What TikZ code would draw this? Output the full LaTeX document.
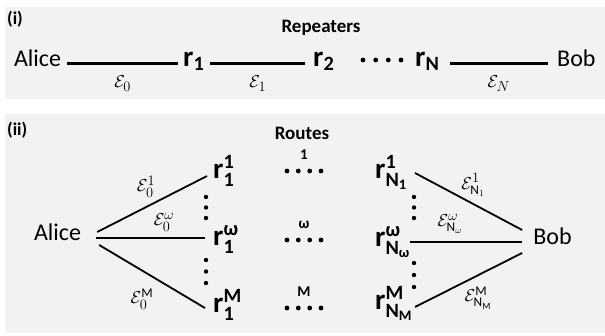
\documentclass[tikz,border=0pt]{standalone}
\usepackage{fontspec}
\usepackage{amsmath}
\setmainfont{Carlito}
\definecolor{panelgray}{HTML}{F2F2F2}
\begin{document}
\begin{tikzpicture}[x=1pt,y=-1pt,
  big/.style={font=\fontsize{24}{28}\selectfont, inner sep=0pt},
  rep/.style={font=\fontsize{29}{33}\selectfont\bfseries, inner sep=0pt},
  heading/.style={font=\fontsize{19}{22}\selectfont\bfseries, inner sep=0pt},
  tag/.style={font=\fontsize{18}{22}\selectfont\bfseries, inner sep=0pt, anchor=north west},
  chan/.style={font=\fontsize{19}{23}\selectfont, inner sep=0pt},
  routelabel/.style={font=\fontsize{15}{18}\selectfont\bfseries, inner sep=0pt},
  link/.style={line width=2.6pt},
  slim link/.style={line width=1.8pt},
]
\useasboundingbox (0,0) rectangle (605,335);
\fill[white] (0,0) rectangle (605,335);
\fill[panelgray] (5,7) rectangle (605,99);
\fill[panelgray] (5,114) rectangle (605,333);

% ---------- (i) chain of repeaters ----------
\node[tag] (tagi) at (7,11) {(i)};
\node[heading] (reptitle) at (321,28) {Repeaters};
\node[big, anchor=base] (alice1) at (37.5,66) {Alice};
\node[rep, anchor=base west] (r1) at (183,66) {$\textbf{r}_{\textbf{1}}$};
\node[rep, anchor=base west] (r2) at (313,66) {$\textbf{r}_{\textbf{2}}$};
\node[rep, anchor=base west] (rN) at (415,66) {$\textbf{r}_{\textbf{N}}$};
\node[big, anchor=base west] (bob1) at (557,66) {Bob};

\draw[link] ([xshift=6pt]alice1.mid east) -- ([xshift=-5pt]r1.west |- alice1.mid)
  node[chan, midway, below=11pt] (e0) {$\mathcal{E}_0$};
\draw[link] ([xshift=6pt]r1.east |- alice1.mid) -- ([xshift=-8pt]r2.west |- alice1.mid)
  node[chan, midway, below=11pt] (e1) {$\mathcal{E}_1$};
\draw[link] ([xshift=10pt]rN.east |- alice1.mid) -- ([xshift=-9pt]bob1.mid west)
  node[chan, midway, below=11pt] (eN) {$\mathcal{E}_N$};
\foreach \x in {363,375.7,388.3,401} \fill (\x,60) circle (2.4);

% ---------- (ii) parallel routes ----------
\node[tag] (tagii) at (7,122) {(ii)};
\node[heading] (routetitle) at (302,133) {Routes};
\node[big, anchor=mid] (alice2) at (57.5,238) {Alice};
\node[big, anchor=mid] (bob2) at (552.5,242) {Bob};

\node[rep, anchor=base west] (a1) at (213,178) {$\textbf{r}^{\textbf{1}}_{\textbf{1}}$};
\node[rep, anchor=base west] (aw) at (213,245) {$\textbf{r}^{\textbf{ω}}_{\textbf{1}}$};
\node[rep, anchor=base west] (am) at (213,312) {$\textbf{r}^{\textbf{M}}_{\textbf{1}}$};
\node[rep, anchor=base west] (b1) at (375,178) {$\textbf{r}^{\textbf{1}}_{\textbf{N}_{\textbf{1}}}$};
\node[rep, anchor=base west] (bw) at (375,246) {$\textbf{r}^{\textbf{ω}}_{\textbf{N}_{\textbf{ω}}}$};
\node[rep, anchor=base west] (bm) at (375,309) {$\textbf{r}^{\textbf{M}}_{\textbf{N}_{\textbf{M}}}$};

\draw[slim link] ([shift={(16,-6)}]alice2.mid east) -- ([shift={(-6,-2)}]a1.base west);
\draw[link]      ([shift={(15,0)}]alice2.mid east)  -- ([shift={(-8,-7)}]aw.base west);
\draw[slim link] ([shift={(18,7)}]alice2.mid east)  -- ([shift={(-8,-4)}]am.base west);

\draw[slim link] ([shift={(40,-5)}]b1.base west) -- ([shift={(-11,-12)}]bob2.mid west);
\draw[link]      ([shift={(35,-4)}]bw.base west) -- ([shift={(-11,0)}]bob2.mid west);
\draw[slim link] ([shift={(40,-2)}]bm.base west) -- ([shift={(-11,11)}]bob2.mid west);

\node[chan] (e01) at (146,187) {$\mathcal{E}_0^{1}$};
\node[chan] (e0w) at (164,222) {$\mathcal{E}_0^{\omega}$};
\node[chan] (e0m) at (142,299) {$\mathcal{E}_0^{\text{M}}$};
\node[chan] (eN1) at (473,185) {$\mathcal{E}^{1}_{\mathrm{N}_1}$};
\node[chan] (eNw) at (450,224) {$\mathcal{E}^{\omega}_{\mathrm{N}_{\omega}}$};
\node[chan] (eNm) at (478,298) {$\mathcal{E}^{\text{M}}_{\mathrm{N}_{\text{M}}}$};

% vertical ellipses between the routes
\foreach \y in {197,207.5,218,260,271.5,283} \fill (206,\y) circle (2.2);
\foreach \y in {197,207.5,218,263,275,287} \fill (414,\y) circle (2.2);

% middle sections of the routes
\foreach \y in {171,240,308}
  \foreach \x in {287,298.3,309.7,321} \fill (\x,\y) circle (2.4);
\node[routelabel] (m1) at (304,155) {1};
\node[routelabel] (mw) at (304,225) {ω};
\node[routelabel] (mm) at (304,292) {M};
\end{tikzpicture}
\end{document}
